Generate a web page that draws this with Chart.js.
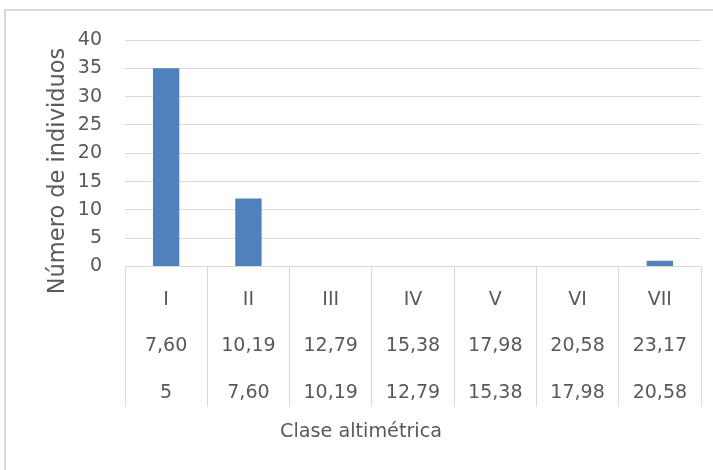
<!DOCTYPE html>
<html>
<head>
<meta charset="utf-8">
<script src="https://cdn.jsdelivr.net/npm/chart.js@4.4.1/dist/chart.umd.min.js"></script>
<style>
  html, body { margin: 0; padding: 0; background: #fff; }
  #frame {
    position: absolute; left: 4px; top: 9px; width: 800px; height: 600px;
    border-left: 2px solid #d9d9d9; border-top: 2px solid #d9d9d9;
  }
  #wrap { position: absolute; left: 0; top: 0; width: 713px; height: 470px; }
</style>
</head>
<body>
<div id="frame"></div>
<div id="wrap"><canvas id="chart" width="713" height="470"></canvas></div>
<script>
// Clase altimétrica: número de individuos por clase
const classes = ["I", "II", "III", "IV", "V", "VI", "VII"];
const upperBounds = ["7,60", "10,19", "12,79", "15,38", "17,98", "20,58", "23,17"];
const lowerBounds = ["5", "7,60", "10,19", "12,79", "15,38", "17,98", "20,58"];
const individuals = [35, 12, 0, 0, 0, 0, 1];
const yTicks = [0, 5, 10, 15, 20, 25, 30, 35, 40];

const textColor = "#595959";
const lineColor = "#d9d9d9";
const fontFamily = "'DejaVu Sans', sans-serif";

// three-row category labels, like the Excel multi-level axis
const labels = classes.map((c, i) => [c, upperBounds[i], lowerBounds[i]]);

// axis titles drawn by hand so they can be centred the way Excel does
const axisTitles = {
  id: "axisTitles",
  afterDraw(chart) {
    const ctx = chart.ctx;
    ctx.save();
    ctx.fillStyle = textColor;
    ctx.textAlign = "center";
    ctx.textBaseline = "alphabetic";
    ctx.font = "22.5px " + fontFamily;
    ctx.translate(64, 171);
    ctx.rotate(-Math.PI / 2);
    ctx.fillText("Número de individuos", 0, 0);
    ctx.restore();

    ctx.save();
    ctx.fillStyle = textColor;
    ctx.textAlign = "center";
    ctx.textBaseline = "alphabetic";
    ctx.font = "19.2px " + fontFamily;
    ctx.fillText("Clase altimétrica", 361, 437);
    ctx.restore();
  },
};

new Chart(document.getElementById("chart").getContext("2d"), {
  type: "bar",
  data: {
    labels: labels,
    datasets: [
      {
        label: "Número de individuos",
        data: individuals,
        backgroundColor: "#4f81bd",
        borderWidth: 0,
        barPercentage: 0.32,
        categoryPercentage: 1,
      },
    ],
  },
  options: {
    responsive: false,
    animation: false,
    layout: {
      padding: { top: 40, right: 12, left: 0, bottom: 0 },
    },
    plugins: {
      legend: { display: false },
      tooltip: { enabled: false },
    },
    scales: {
      x: {
        afterFit: (scale) => {
          scale.height = 203.5;
        },
        grid: {
          offset: true,
          drawOnChartArea: false,
          drawTicks: true,
          tickLength: 140,
          color: lineColor,
        },
        border: { display: true, color: lineColor },
        ticks: {
          color: textColor,
          padding: -130,
          maxRotation: 0,
          autoSkip: false,
          font: { family: fontFamily, size: 19, lineHeight: 46.5 / 19 },
        },
      },
      y: {
        min: 0,
        max: 40,
        afterFit: (scale) => {
          scale.width = 125;
        },
        afterBuildTicks: (scale) => {
          scale.ticks = yTicks.map((v) => ({ value: v }));
        },
        grid: { color: lineColor, drawTicks: false },
        border: { display: false },
        ticks: {
          color: textColor,
          padding: 23,
          font: { family: fontFamily, size: 19 },
        },
      },
    },
  },
  plugins: [axisTitles],
});
</script>
</body>
</html>
